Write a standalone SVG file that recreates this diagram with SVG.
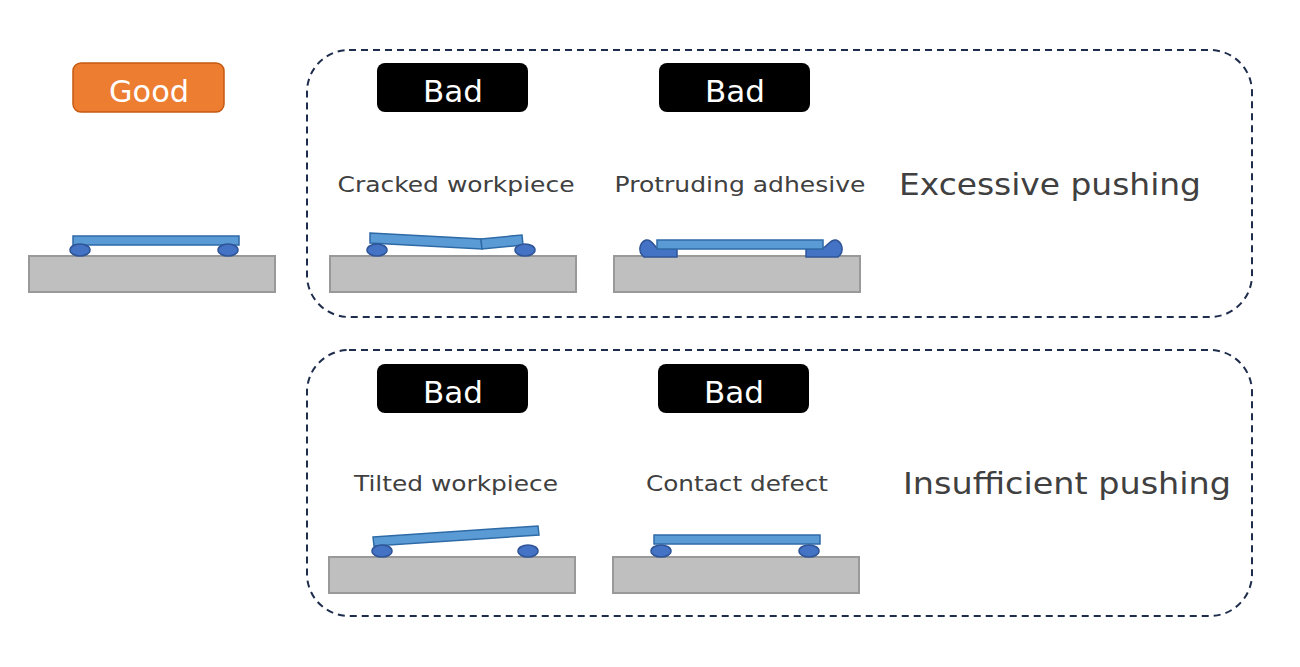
<svg xmlns="http://www.w3.org/2000/svg" width="1300" height="667" viewBox="0 0 1300 667">
<style>
.base{fill:#bfbfbf;stroke:#999;stroke-width:2}
.plate{fill:#5b9bd5;stroke:#2e6aa6;stroke-width:1.5}
.bump{fill:#4472c4;stroke:#2f5597;stroke-width:1.5}
.bad{fill:#000}
.lbl{font-family:"DejaVu Sans","Noto Sans",sans-serif;fill:#fff;font-size:30px;text-anchor:middle}
.cap{font-family:"DejaVu Sans","Noto Sans",sans-serif;fill:#404040;font-size:22px;text-anchor:middle}
.big{font-family:"DejaVu Sans","Noto Sans",sans-serif;fill:#404040;font-size:31px;text-anchor:middle}
.grp{fill:none;stroke:#1f2d4d;stroke-width:2;stroke-dasharray:7 5}
</style>
<rect width="1300" height="667" fill="#fff"/>
<g id="groups">
<rect class="grp" x="307" y="50" width="945" height="267" rx="42"/>
<rect class="grp" x="307" y="350" width="945" height="266" rx="42"/>
<text class="big" x="1050" y="195" textLength="302" lengthAdjust="spacingAndGlyphs">Excessive pushing</text>
<text class="big" x="1067" y="494" textLength="328" lengthAdjust="spacingAndGlyphs">Insufficient pushing</text>
</g>
<g id="good">
<rect x="73" y="63" width="151" height="49" rx="8" fill="#ed7d31" stroke="#c55a11" stroke-width="1.5"/>
<text class="lbl" x="149" y="102" textLength="80" lengthAdjust="spacingAndGlyphs">Good</text>
<rect class="base" x="29" y="256" width="246" height="36"/>
<rect class="plate" x="73" y="236" width="166" height="9"/>
<ellipse class="bump" cx="80" cy="250" rx="10" ry="6"/>
<ellipse class="bump" cx="228" cy="250" rx="10" ry="6"/>
</g>
<g id="cracked">
<rect class="bad" x="377" y="63" width="151" height="49" rx="8"/>
<text class="lbl" x="453" y="102" textLength="60" lengthAdjust="spacingAndGlyphs">Bad</text>
<text class="cap" x="456" y="192" textLength="237" lengthAdjust="spacingAndGlyphs">Cracked workpiece</text>
<rect class="base" x="330" y="256" width="246" height="36"/>
<polygon class="plate" points="370,233 481,239 482,249 370,243"/>
<polygon class="plate" points="481,239 522,235 523,245 482,249"/>
<ellipse class="bump" cx="377" cy="250" rx="10" ry="6"/>
<ellipse class="bump" cx="525" cy="250" rx="10" ry="6"/>
</g>
<g id="protruding">
<rect class="bad" x="659" y="63" width="151" height="49" rx="8"/>
<text class="lbl" x="735" y="102" textLength="60" lengthAdjust="spacingAndGlyphs">Bad</text>
<text class="cap" x="740" y="192" textLength="251" lengthAdjust="spacingAndGlyphs">Protruding adhesive</text>
<rect class="base" x="614" y="256" width="246" height="36"/>
<path class="bump" d="M642,255 C638,250 640,242 646,240 C652,239 654,246 657,248 L677,249 L677,257 L644,257 Z"/>
<path class="bump" d="M840,255 C844,250 842,242 836,240 C830,239 828,246 823,248 L806,249 L806,257 L838,257 Z"/>
<rect class="plate" x="657" y="240" width="166" height="9"/>
</g>
<g id="tilted">
<rect class="bad" x="377" y="364" width="151" height="49" rx="8"/>
<text class="lbl" x="453" y="403" textLength="60" lengthAdjust="spacingAndGlyphs">Bad</text>
<text class="cap" x="456" y="491" textLength="204" lengthAdjust="spacingAndGlyphs">Tilted workpiece</text>
<rect class="base" x="329" y="557" width="246" height="36"/>
<polygon class="plate" points="373,537 538,526 539,535 374,546"/>
<ellipse class="bump" cx="382" cy="551" rx="10" ry="6"/>
<ellipse class="bump" cx="528" cy="551" rx="10" ry="6"/>
</g>
<g id="contact">
<rect class="bad" x="658" y="364" width="151" height="49" rx="8"/>
<text class="lbl" x="734" y="403" textLength="60" lengthAdjust="spacingAndGlyphs">Bad</text>
<text class="cap" x="737" y="491" textLength="182" lengthAdjust="spacingAndGlyphs">Contact defect</text>
<rect class="base" x="613" y="557" width="246" height="36"/>
<rect class="plate" x="654" y="535" width="166" height="9"/>
<ellipse class="bump" cx="661" cy="551" rx="10" ry="6"/>
<ellipse class="bump" cx="809" cy="551" rx="10" ry="6"/>
</g>
<g id="connectors"></g>
</svg>
